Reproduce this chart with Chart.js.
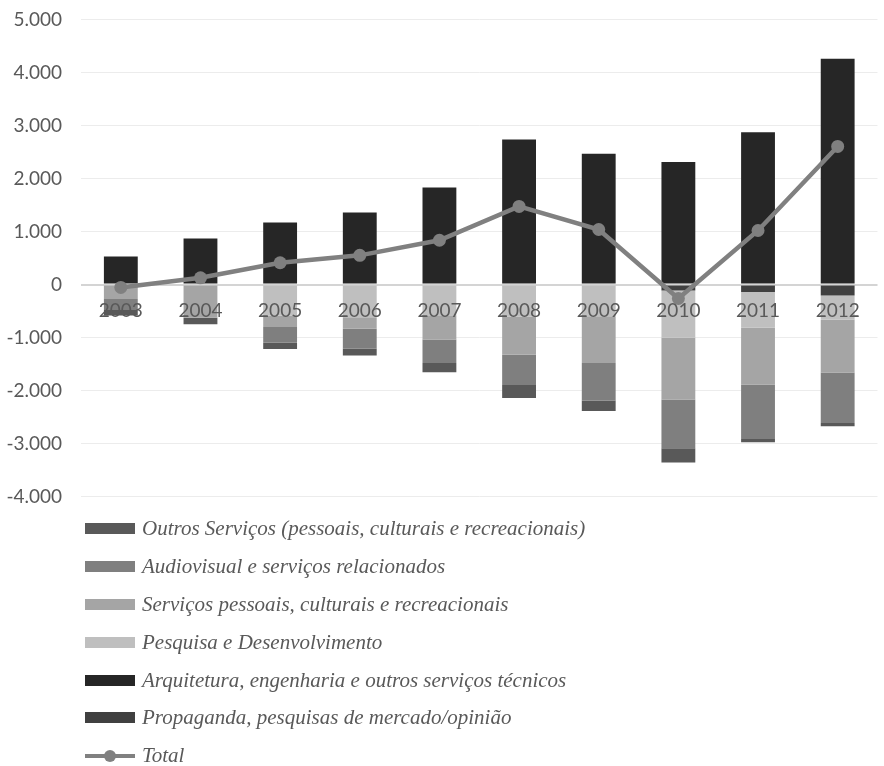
<!DOCTYPE html>
<html>
<head>
<meta charset="utf-8">
<script src="https://cdn.jsdelivr.net/npm/chart.js@4/dist/chart.umd.min.js"></script>
<style>
    body { margin: 0; background: #ffffff; }
    #wrap { position: relative; width: 884px; height: 766px; overflow: hidden; }
    #chartBox { position: absolute; left: 0; top: -11px; width: 884px; height: 538px; }
    #legend {
        position: absolute; left: 85px; top: 510px;
        margin: 0; padding: 0; list-style: none;
        font-family: 'Liberation Serif', serif; font-style: italic;
        font-size: 21px; color: #595959;
    }
    #legend li { display: flex; align-items: center; height: 37.8px; white-space: nowrap; }
    #legend .swatch { width: 50px; height: 11px; margin-right: 7px; flex: none; }
    #legend .lineKey { position: relative; width: 50px; height: 12px; margin-right: 7px; flex: none; }
    #legend .lineKey::before {
        content: ''; position: absolute; left: 0; right: 0; top: 4px; height: 4px; background: #808080;
    }
    #legend .lineKey::after {
        content: ''; position: absolute; left: 19px; top: 0; width: 12px; height: 12px;
        border-radius: 50%; background: #808080;
    }
</style>
</head>
<body>
<div id="wrap">
    <div id="chartBox"><canvas id="balancaChart"></canvas></div>
    <ul id="legend"></ul>
</div>
<script>
const anos = ['2003', '2004', '2005', '2006', '2007', '2008', '2009', '2010', '2011', '2012'];

const propaganda   = [0, 0, 0, 0, 0, 0, 0, -113, -142, -208];
const arquitetura  = [528, 868, 1170, 1358, 1830, 2736, 2466, 2310, 2874, 4258];
const pesquisa     = [0, 0, -585, -617, -594, -604, -600, -892, -675, -457];
const servicos     = [-274, -628, -217, -219, -443, -721, -881, -1164, -1070, -996];
const audiovisual  = [-208, 0, -292, -377, -443, -572, -708, -919, -1025, -951];
const outros       = [-104, -121, -123, -126, -174, -242, -198, -270, -64, -62];
const total        = [-55, 126, 410, 550, 835, 1472, 1038, -264, 1019, 2604];

const yTicks = [-4000, -3000, -2000, -1000, 0, 1000, 2000, 3000, 4000, 5000];

// legend order as listed under the chart
const legendOrder = [
    'Outros Serviços (pessoais, culturais e recreacionais)',
    'Audiovisual e serviços relacionados',
    'Serviços pessoais, culturais e recreacionais',
    'Pesquisa e Desenvolvimento',
    'Arquitetura, engenharia e outros serviços técnicos',
    'Propaganda, pesquisas de mercado/opinião',
    'Total',
];

const fmt = (v) => {
    const s = String(Math.abs(v)).replace(/\B(?=(\d{3})+(?!\d))/g, '.');
    return v < 0 ? '-' + s : s;
};

const bar = (label, data, color) => ({
    type: 'bar',
    label,
    data,
    backgroundColor: color,
    borderWidth: 0,
    stack: 'servicos',
    categoryPercentage: 1,
    barPercentage: 0.425,
});

Chart.defaults.font.family = 'Lato';

const chart = new Chart(document.getElementById('balancaChart'), {
    data: {
        labels: anos,
        datasets: [
            bar('Propaganda, pesquisas de mercado/opinião', propaganda, '#404040'),
            bar('Arquitetura, engenharia e outros serviços técnicos', arquitetura, '#262626'),
            bar('Pesquisa e Desenvolvimento', pesquisa, '#bfbfbf'),
            bar('Serviços pessoais, culturais e recreacionais', servicos, '#a5a5a5'),
            bar('Audiovisual e serviços relacionados', audiovisual, '#7f7f7f'),
            bar('Outros Serviços (pessoais, culturais e recreacionais)', outros, '#595959'),
            {
                type: 'line',
                label: 'Total',
                data: total,
                stack: 'total',
                order: -1,
                borderColor: '#808080',
                borderWidth: 4.5,
                pointRadius: 6.5,
                pointBackgroundColor: '#808080',
                pointBorderWidth: 0,
                tension: 0,
            },
        ],
    },
    options: {
        responsive: true,
        maintainAspectRatio: false,
        animation: false,
        layout: {
            padding: { top: 9, right: 3, bottom: 1, left: 0 },
        },
        plugins: {
            legend: { display: false },
            tooltip: { enabled: false },
        },
        scales: {
            x: {
                stacked: true,
                position: { y: 0 },
                grid: { display: false, drawTicks: false },
                border: { display: false },
                ticks: {
                    z: 1,
                    color: '#595959',
                    font: { size: 19 },
                    padding: 15,
                    maxRotation: 0,
                },
            },
            y: {
                stacked: true,
                min: -4000,
                max: 5000,
                afterBuildTicks: (scale) => {
                    scale.ticks = yTicks.map((value) => ({ value }));
                },
                afterFit: (scale) => {
                    scale.width = 81;
                },
                grid: {
                    drawTicks: false,
                    color: (ctx) => (ctx.tick && ctx.tick.value === 0 ? '#d4d4d4' : '#ececec'),
                    lineWidth: (ctx) => (ctx.tick && ctx.tick.value === 0 ? 2 : 1),
                },
                border: { display: false },
                ticks: {
                    color: '#595959',
                    font: { size: 19 },
                    padding: 19,
                    callback: (value) => fmt(value),
                },
            },
        },
    },
});

// HTML legend built from the chart's own datasets
const legendEl = document.getElementById('legend');
legendOrder.forEach((name) => {
    const ds = chart.data.datasets.find((d) => d.label === name);
    const li = document.createElement('li');
    const key = document.createElement('span');
    if (ds.type === 'line') {
        key.className = 'lineKey';
    } else {
        key.className = 'swatch';
        key.style.background = ds.backgroundColor;
    }
    const text = document.createElement('span');
    text.textContent = ds.label;
    li.appendChild(key);
    li.appendChild(text);
    legendEl.appendChild(li);
});
</script>
</body>
</html>
